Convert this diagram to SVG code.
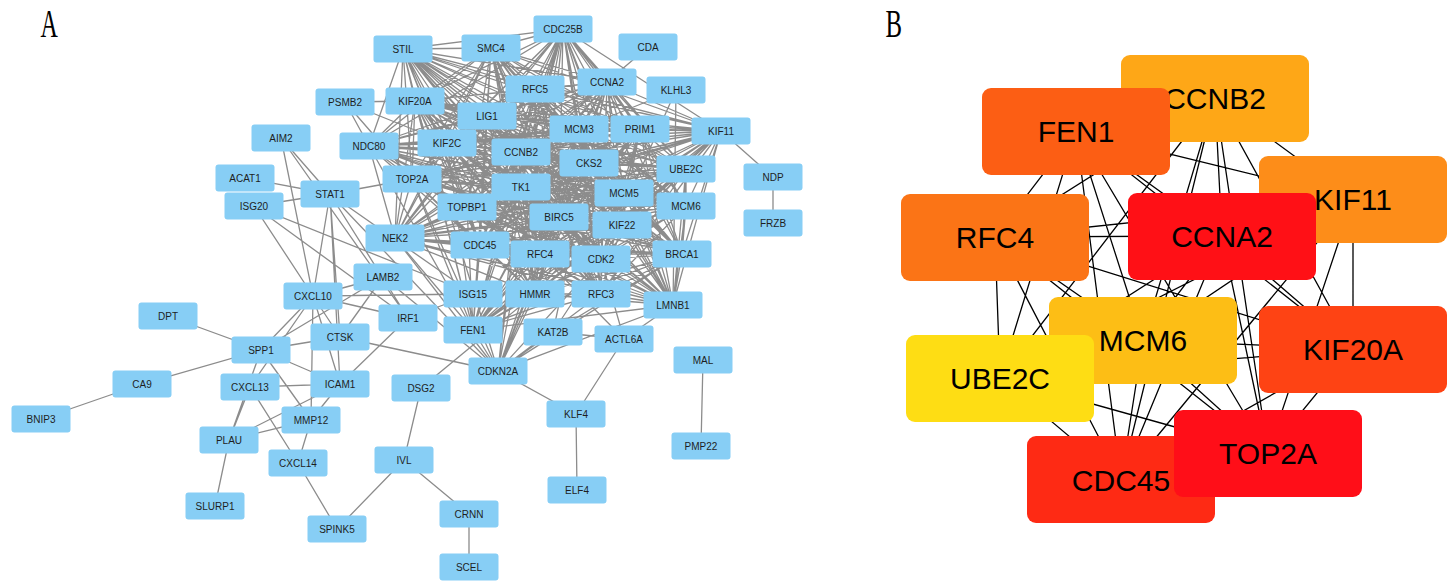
<svg xmlns="http://www.w3.org/2000/svg" width="1453" height="582" viewBox="0 0 1453 582">
<style>
.e{fill:none;stroke:#8c8c8c;stroke-width:1.3;stroke-linejoin:round}
.be{fill:none;stroke:#000;stroke-width:1.3}
.n rect{fill:#87CEF5}
.n text{font-family:"Liberation Sans",Arial,sans-serif;font-size:10px;fill:#1e1e1e;text-anchor:middle}
.b text{font-family:"Liberation Sans",Arial,sans-serif;font-size:30px;fill:#000;text-anchor:middle}
.lbl{font-family:"Liberation Serif","Times New Roman",serif;font-size:40px;fill:#000}
</style>
<rect width="1453" height="582" fill="#fff"/>
<text class="lbl" transform="translate(40.5,37) scale(0.6,1)">A</text>
<text class="lbl" transform="translate(885.5,37) scale(0.62,1)">B</text>
<g id="edges-A">
<path class="e" d="M403 49L491 48L563 29L415 101L535 89L607 82L487 116L579 129L640 129L721 131L369 146L447 143L521 152L589 163L686 169L412 179L521 187L624 193L686 206L467 207L559 217L622 225L395 238L480 245L540 254L601 259L682 254L535 294L601 294L673 305L473 330Z
M403 49L563 29L535 89L487 116L640 129L369 146L521 152L686 169L521 187L686 206L559 217L395 238L540 254L682 254L601 294L473 330L491 48L415 101L607 82L579 129L721 131L447 143L589 163L412 179L624 193L467 207L622 225L480 245L601 259L535 294L673 305Z
M403 49L415 101L487 116L721 131L521 152L412 179L686 206L622 225L540 254L535 294L473 330L563 29L607 82L640 129L447 143L686 169L624 193L559 217L480 245L682 254L673 305L491 48L535 89L579 129L369 146L589 163L521 187L467 207L395 238L601 259L601 294Z
M403 49L535 89L640 129L521 152L521 187L559 217L540 254L601 294L491 48L607 82L721 131L589 163L624 193L622 225L601 259L673 305L563 29L487 116L369 146L686 169L686 206L395 238L682 254L473 330L415 101L579 129L447 143L412 179L467 207L480 245L535 294Z
M403 49L607 82L369 146L412 179L559 217L601 259L473 330L535 89L721 131L686 169L467 207L540 254L673 305L415 101L640 129L589 163L686 206L480 245L601 294L563 29L579 129L521 152L624 193L395 238L535 294L491 48L487 116L447 143L521 187L622 225L682 254Z
M403 49L487 116L521 152L686 206L540 254L473 330L607 82L447 143L624 193L480 245L673 305L535 89L369 146L521 187L395 238L601 294L415 101L721 131L412 179L622 225L535 294L563 29L640 129L686 169L559 217L682 254L491 48L579 129L589 163L467 207L601 259Z
M403 49L579 129L686 169L622 225L601 294L535 89L447 143L686 206L601 259L491 48L640 129L412 179L395 238L673 305L607 82L521 152L467 207L682 254L563 29L721 131L521 187L480 245L473 330L487 116L589 163L559 217L535 294L415 101L369 146L624 193L540 254Z
M403 49L640 129L521 187L540 254L491 48L721 131L624 193L601 259L563 29L369 146L686 206L682 254L415 101L447 143L467 207L535 294L535 89L521 152L559 217L601 294L607 82L589 163L622 225L673 305L487 116L686 169L395 238L473 330L579 129L412 179L480 245Z
M403 49L721 131L686 206L535 294L607 82L686 169L480 245L491 48L369 146L467 207L601 294L487 116L412 179L540 254L563 29L447 143L559 217L673 305L579 129L521 187L601 259L415 101L521 152L622 225L473 330L640 129L624 193L682 254L535 89L589 163L395 238Z
M403 49L369 146L559 217L473 330L721 131L467 207L673 305L640 129L686 206L601 294L579 129L624 193L535 294L487 116L521 187L682 254L607 82L412 179L601 259L535 89L686 169L540 254L415 101L589 163L480 245L563 29L521 152L395 238L491 48L447 143L622 225Z
M403 49L447 143L395 238L563 29L589 163L540 254L535 89L412 179L682 254L487 116L624 193L601 294L640 129L467 207L473 330L369 146L622 225L491 48L521 152L480 245L415 101L686 169L601 259L607 82L521 187L535 294L579 129L686 206L673 305L721 131L559 217Z
M403 49L521 152L540 254L607 82L624 193L673 305L369 146L395 238L415 101L412 179L535 294L640 129L559 217L491 48L589 163L601 259L487 116L686 206L473 330L447 143L480 245L535 89L521 187L601 294L721 131L622 225L563 29L686 169L682 254L579 129L467 207Z
M403 49L589 163L682 254L640 129L622 225L415 101L521 187L673 305L447 143L540 254L487 116L467 207L491 48L686 169L535 294L721 131L395 238L535 89L624 193L473 330L521 152L601 259L579 129L559 217L563 29L412 179L601 294L369 146L480 245L607 82L686 206Z
M403 49L686 169L601 294L447 143L601 259L640 129L395 238L607 82L467 207L563 29L521 187L473 330L589 163L535 294L369 146L540 254L579 129L622 225L535 89L686 206L491 48L412 179L673 305L521 152L682 254L721 131L480 245L487 116L559 217L415 101L624 193Z
M403 49L412 179L473 330L686 169L673 305L589 163L601 294L521 152L535 294L447 143L682 254L369 146L601 259L721 131L540 254L640 129L480 245L579 129L395 238L487 116L622 225L607 82L559 217L535 89L467 207L415 101L686 206L563 29L624 193L491 48L521 187Z"/>
<path class="e" d="M721 131L773 177M773 177L773 223M648 47L607 82M345 102L415 101M345 102L369 146M345 102L412 179M345 102L447 143M676 90L673 305M676 90L601 259M676 90L521 152
M281 138L330 194M281 138L313 296M281 138L408 318M245 178L330 194M254 206L330 194M254 206L313 296M254 206L473 294M254 206L408 318
M330 194L412 179M330 194L313 296M330 194L408 318M330 194L473 294M330 194L340 384M330 194L498 371M330 194L340 337
M383 277L313 296M383 277L261 350M383 277L340 337M383 277L498 371
M313 296L408 318M313 296L473 294M313 296L261 350M313 296L340 384M313 296L311 420M313 296L340 337M313 296L250 387
M168 316L261 350M142 384L261 350M41 419L142 384M261 350L340 337M261 350L340 384M261 350L311 420M261 350L229 440
M250 387L340 384M250 387L229 440M250 387L298 463M229 440L311 420M229 440L340 384M229 440L215 506M311 420L298 463M311 420L340 384
M340 337L498 371M408 318L340 384M408 318L473 294M421 388L404 460M421 388L535 294M404 460L337 529M404 460L469 514M469 514L469 567M298 463L337 529
M498 371L535 294M498 371L601 259M498 371L607 82M498 371L521 152M498 371L559 217M498 371L412 179M498 371L563 29M498 371L682 254M498 371L553 332M498 371L673 305M498 371L395 238M498 371L415 101M498 371L601 294M498 371L579 129M498 371L521 187M498 371L589 163M498 371L576 414M498 371L473 330
M553 332L624 339M553 332L682 254M553 332L601 259M553 332L607 82M624 339L673 305M624 339L576 414M624 339L601 259M624 339L540 254M576 414L577 490M703 360L701 446"/>
</g>
<g id="nodes-A">
<g id="n-STIL" class="n"><rect x="373.5" y="35.5" width="59" height="27" rx="3"/><text x="403" y="52.5">STIL</text></g>
<g id="n-SMC4" class="n"><rect x="461.5" y="34.5" width="59" height="27" rx="3"/><text x="491" y="51.5">SMC4</text></g>
<g id="n-CDC25B" class="n"><rect x="533.5" y="15.5" width="59" height="27" rx="3"/><text x="563" y="32.5">CDC25B</text></g>
<g id="n-CDA" class="n"><rect x="618.5" y="33.5" width="59" height="27" rx="3"/><text x="648" y="50.5">CDA</text></g>
<g id="n-PSMB2" class="n"><rect x="315.5" y="88.5" width="59" height="27" rx="3"/><text x="345" y="105.5">PSMB2</text></g>
<g id="n-KIF20A" class="n"><rect x="385.5" y="87.5" width="59" height="27" rx="3"/><text x="415" y="104.5">KIF20A</text></g>
<g id="n-RFC5" class="n"><rect x="505.5" y="75.5" width="59" height="27" rx="3"/><text x="535" y="92.5">RFC5</text></g>
<g id="n-CCNA2" class="n"><rect x="577.5" y="68.5" width="59" height="27" rx="3"/><text x="607" y="85.5">CCNA2</text></g>
<g id="n-KLHL3" class="n"><rect x="646.5" y="76.5" width="59" height="27" rx="3"/><text x="676" y="93.5">KLHL3</text></g>
<g id="n-LIG1" class="n"><rect x="457.5" y="102.5" width="59" height="27" rx="3"/><text x="487" y="119.5">LIG1</text></g>
<g id="n-MCM3" class="n"><rect x="549.5" y="115.5" width="59" height="27" rx="3"/><text x="579" y="132.5">MCM3</text></g>
<g id="n-PRIM1" class="n"><rect x="610.5" y="115.5" width="59" height="27" rx="3"/><text x="640" y="132.5">PRIM1</text></g>
<g id="n-KIF11" class="n"><rect x="691.5" y="117.5" width="59" height="27" rx="3"/><text x="721" y="134.5">KIF11</text></g>
<g id="n-AIM2" class="n"><rect x="251.5" y="124.5" width="59" height="27" rx="3"/><text x="281" y="141.5">AIM2</text></g>
<g id="n-NDC80" class="n"><rect x="339.5" y="132.5" width="59" height="27" rx="3"/><text x="369" y="149.5">NDC80</text></g>
<g id="n-KIF2C" class="n"><rect x="417.5" y="129.5" width="59" height="27" rx="3"/><text x="447" y="146.5">KIF2C</text></g>
<g id="n-CCNB2" class="n"><rect x="491.5" y="138.5" width="59" height="27" rx="3"/><text x="521" y="155.5">CCNB2</text></g>
<g id="n-CKS2" class="n"><rect x="559.5" y="149.5" width="59" height="27" rx="3"/><text x="589" y="166.5">CKS2</text></g>
<g id="n-UBE2C" class="n"><rect x="656.5" y="155.5" width="59" height="27" rx="3"/><text x="686" y="172.5">UBE2C</text></g>
<g id="n-NDP" class="n"><rect x="743.5" y="163.5" width="59" height="27" rx="3"/><text x="773" y="180.5">NDP</text></g>
<g id="n-ACAT1" class="n"><rect x="215.5" y="164.5" width="59" height="27" rx="3"/><text x="245" y="181.5">ACAT1</text></g>
<g id="n-STAT1" class="n"><rect x="300.5" y="180.5" width="59" height="27" rx="3"/><text x="330" y="197.5">STAT1</text></g>
<g id="n-TOP2A" class="n"><rect x="382.5" y="165.5" width="59" height="27" rx="3"/><text x="412" y="182.5">TOP2A</text></g>
<g id="n-TK1" class="n"><rect x="491.5" y="173.5" width="59" height="27" rx="3"/><text x="521" y="190.5">TK1</text></g>
<g id="n-MCM5" class="n"><rect x="594.5" y="179.5" width="59" height="27" rx="3"/><text x="624" y="196.5">MCM5</text></g>
<g id="n-MCM6" class="n"><rect x="656.5" y="192.5" width="59" height="27" rx="3"/><text x="686" y="209.5">MCM6</text></g>
<g id="n-ISG20" class="n"><rect x="224.5" y="192.5" width="59" height="27" rx="3"/><text x="254" y="209.5">ISG20</text></g>
<g id="n-TOPBP1" class="n"><rect x="437.5" y="193.5" width="59" height="27" rx="3"/><text x="467" y="210.5">TOPBP1</text></g>
<g id="n-BIRC5" class="n"><rect x="529.5" y="203.5" width="59" height="27" rx="3"/><text x="559" y="220.5">BIRC5</text></g>
<g id="n-KIF22" class="n"><rect x="592.5" y="211.5" width="59" height="27" rx="3"/><text x="622" y="228.5">KIF22</text></g>
<g id="n-FRZB" class="n"><rect x="743.5" y="209.5" width="59" height="27" rx="3"/><text x="773" y="226.5">FRZB</text></g>
<g id="n-NEK2" class="n"><rect x="365.5" y="224.5" width="59" height="27" rx="3"/><text x="395" y="241.5">NEK2</text></g>
<g id="n-CDC45" class="n"><rect x="450.5" y="231.5" width="59" height="27" rx="3"/><text x="480" y="248.5">CDC45</text></g>
<g id="n-RFC4" class="n"><rect x="510.5" y="240.5" width="59" height="27" rx="3"/><text x="540" y="257.5">RFC4</text></g>
<g id="n-CDK2" class="n"><rect x="571.5" y="245.5" width="59" height="27" rx="3"/><text x="601" y="262.5">CDK2</text></g>
<g id="n-BRCA1" class="n"><rect x="652.5" y="240.5" width="59" height="27" rx="3"/><text x="682" y="257.5">BRCA1</text></g>
<g id="n-LAMB2" class="n"><rect x="353.5" y="263.5" width="59" height="27" rx="3"/><text x="383" y="280.5">LAMB2</text></g>
<g id="n-CXCL10" class="n"><rect x="283.5" y="282.5" width="59" height="27" rx="3"/><text x="313" y="299.5">CXCL10</text></g>
<g id="n-ISG15" class="n"><rect x="443.5" y="280.5" width="59" height="27" rx="3"/><text x="473" y="297.5">ISG15</text></g>
<g id="n-HMMR" class="n"><rect x="505.5" y="280.5" width="59" height="27" rx="3"/><text x="535" y="297.5">HMMR</text></g>
<g id="n-RFC3" class="n"><rect x="571.5" y="280.5" width="59" height="27" rx="3"/><text x="601" y="297.5">RFC3</text></g>
<g id="n-LMNB1" class="n"><rect x="643.5" y="291.5" width="59" height="27" rx="3"/><text x="673" y="308.5">LMNB1</text></g>
<g id="n-DPT" class="n"><rect x="138.5" y="302.5" width="59" height="27" rx="3"/><text x="168" y="319.5">DPT</text></g>
<g id="n-IRF1" class="n"><rect x="378.5" y="304.5" width="59" height="27" rx="3"/><text x="408" y="321.5">IRF1</text></g>
<g id="n-CTSK" class="n"><rect x="310.5" y="323.5" width="59" height="27" rx="3"/><text x="340" y="340.5">CTSK</text></g>
<g id="n-FEN1" class="n"><rect x="443.5" y="316.5" width="59" height="27" rx="3"/><text x="473" y="333.5">FEN1</text></g>
<g id="n-KAT2B" class="n"><rect x="523.5" y="318.5" width="59" height="27" rx="3"/><text x="553" y="335.5">KAT2B</text></g>
<g id="n-ACTL6A" class="n"><rect x="594.5" y="325.5" width="59" height="27" rx="3"/><text x="624" y="342.5">ACTL6A</text></g>
<g id="n-SPP1" class="n"><rect x="231.5" y="336.5" width="59" height="27" rx="3"/><text x="261" y="353.5">SPP1</text></g>
<g id="n-MAL" class="n"><rect x="673.5" y="346.5" width="59" height="27" rx="3"/><text x="703" y="363.5">MAL</text></g>
<g id="n-CDKN2A" class="n"><rect x="468.5" y="357.5" width="59" height="27" rx="3"/><text x="498" y="374.5">CDKN2A</text></g>
<g id="n-CXCL13" class="n"><rect x="220.5" y="373.5" width="59" height="27" rx="3"/><text x="250" y="390.5">CXCL13</text></g>
<g id="n-ICAM1" class="n"><rect x="310.5" y="370.5" width="59" height="27" rx="3"/><text x="340" y="387.5">ICAM1</text></g>
<g id="n-CA9" class="n"><rect x="112.5" y="370.5" width="59" height="27" rx="3"/><text x="142" y="387.5">CA9</text></g>
<g id="n-DSG2" class="n"><rect x="391.5" y="374.5" width="59" height="27" rx="3"/><text x="421" y="391.5">DSG2</text></g>
<g id="n-MMP12" class="n"><rect x="281.5" y="406.5" width="59" height="27" rx="3"/><text x="311" y="423.5">MMP12</text></g>
<g id="n-KLF4" class="n"><rect x="546.5" y="400.5" width="59" height="27" rx="3"/><text x="576" y="417.5">KLF4</text></g>
<g id="n-BNIP3" class="n"><rect x="11.5" y="405.5" width="59" height="27" rx="3"/><text x="41" y="422.5">BNIP3</text></g>
<g id="n-PLAU" class="n"><rect x="199.5" y="426.5" width="59" height="27" rx="3"/><text x="229" y="443.5">PLAU</text></g>
<g id="n-PMP22" class="n"><rect x="671.5" y="432.5" width="59" height="27" rx="3"/><text x="701" y="449.5">PMP22</text></g>
<g id="n-CXCL14" class="n"><rect x="268.5" y="449.5" width="59" height="27" rx="3"/><text x="298" y="466.5">CXCL14</text></g>
<g id="n-IVL" class="n"><rect x="374.5" y="446.5" width="59" height="27" rx="3"/><text x="404" y="463.5">IVL</text></g>
<g id="n-ELF4" class="n"><rect x="547.5" y="476.5" width="59" height="27" rx="3"/><text x="577" y="493.5">ELF4</text></g>
<g id="n-SLURP1" class="n"><rect x="185.5" y="492.5" width="59" height="27" rx="3"/><text x="215" y="509.5">SLURP1</text></g>
<g id="n-CRNN" class="n"><rect x="439.5" y="500.5" width="59" height="27" rx="3"/><text x="469" y="517.5">CRNN</text></g>
<g id="n-SPINK5" class="n"><rect x="307.5" y="515.5" width="59" height="27" rx="3"/><text x="337" y="532.5">SPINK5</text></g>
<g id="n-SCEL" class="n"><rect x="439.5" y="553.5" width="59" height="27" rx="3"/><text x="469" y="570.5">SCEL</text></g>
</g>
<g id="edges-B">
<path class="be" d="M1076 131L1215 98L1353 199M995 237L1215 98L1222 236M1143 340L1215 98L1000 378M1353 349L1215 98L1268 453M1121 480L1215 98
M1353 199L1076 131L995 237M1222 236L1076 131L1143 340M1000 378L1076 131L1353 349M1268 453L1076 131L1121 480
M995 237L1353 199L1222 236M1143 340L1353 199L1000 378M1353 349L1353 199L1268 453M1121 480L1353 199
M1222 236L995 237L1143 340M1000 378L995 237L1353 349M1268 453L995 237L1121 480
M1143 340L1222 236L1000 378M1353 349L1222 236L1268 453M1121 480L1222 236
M1000 378L1143 340L1353 349M1268 453L1143 340L1121 480
M1353 349L1000 378L1268 453M1121 480L1000 378
M1268 453L1353 349L1121 480M1268 453L1121 480"/>
</g>
<g id="nodes-B" class="b">
<g id="b-CCNB2"><rect x="1121" y="55" width="188" height="87" rx="9" fill="#FEA717"/><text x="1215" y="108.5">CCNB2</text></g>
<g id="b-FEN1"><rect x="982" y="88" width="188" height="87" rx="9" fill="#FC5E14"/><text x="1076" y="141.5">FEN1</text></g>
<g id="b-KIF11"><rect x="1259" y="156" width="188" height="87" rx="9" fill="#FD8D19"/><text x="1353" y="209.5">KIF11</text></g>
<g id="b-CCNA2"><rect x="1128" y="193" width="188" height="87" rx="9" fill="#FF1016"/><text x="1222" y="246.5">CCNA2</text></g>
<g id="b-RFC4"><rect x="901" y="194" width="188" height="87" rx="9" fill="#FB7416"/><text x="995" y="247.5">RFC4</text></g>
<g id="b-KIF20A"><rect x="1259" y="306" width="188" height="87" rx="9" fill="#FE4314"/><text x="1353" y="359.5">KIF20A</text></g>
<g id="b-MCM6"><rect x="1049" y="297" width="188" height="87" rx="9" fill="#FDBE15"/><text x="1143" y="350.5">MCM6</text></g>
<g id="b-UBE2C"><rect x="906" y="335" width="188" height="87" rx="9" fill="#FEDD14"/><text x="1000" y="388.5">UBE2C</text></g>
<g id="b-CDC45"><rect x="1027" y="436" width="188" height="87" rx="9" fill="#FE2A14"/><text x="1121" y="490.5">CDC45</text></g>
<g id="b-TOP2A"><rect x="1174" y="410" width="188" height="87" rx="9" fill="#FF0E18"/><text x="1268" y="463.5">TOP2A</text></g>
</g>
</svg>
